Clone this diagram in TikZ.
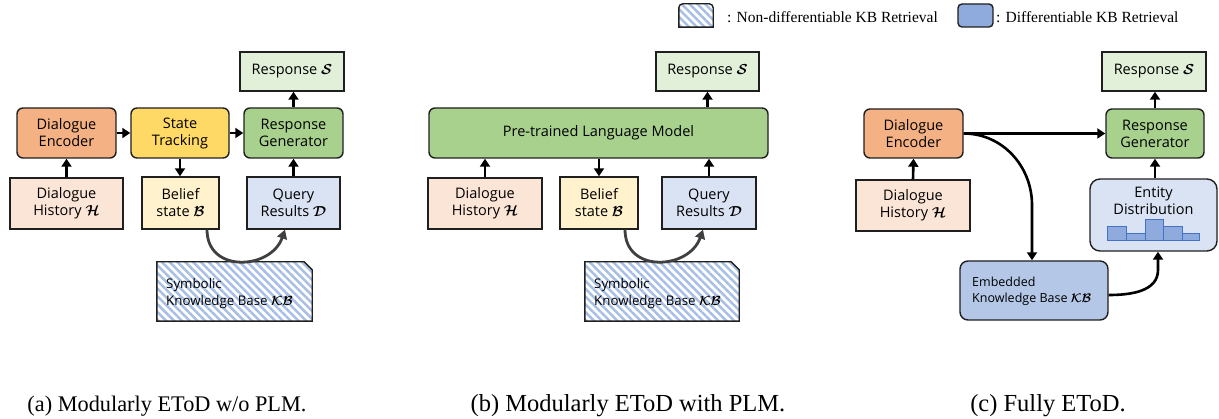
\documentclass[tikz,border=0pt]{standalone}
\usepackage{fix-cm}
\usepackage{bm}
\usepackage{fontspec}
\setmainfont{Liberation Serif}
\newfontfamily\boxfont{Open Sans}
\usetikzlibrary{arrows.meta,patterns.meta}
\definecolor{bord}{HTML}{1F1F1F}
\definecolor{deC}{HTML}{F4B183}
\definecolor{stC}{HTML}{FFD966}
\definecolor{rgC}{HTML}{A9D18E}
\definecolor{rsC}{HTML}{E2F0D9}
\definecolor{dhC}{HTML}{FBE5D6}
\definecolor{bsC}{HTML}{FFF2CC}
\definecolor{qrC}{HTML}{DAE3F3}
\definecolor{ekbC}{HTML}{B4C7E7}
\definecolor{barC}{HTML}{8FAADC}
\definecolor{barD}{HTML}{4472C4}
\definecolor{hatchC}{HTML}{A7BEE5}
\definecolor{curveC}{HTML}{404040}
\tikzset{
  bx/.style={draw=bord, line width=1.4pt, inner sep=0pt, align=center,
    font=\boxfont\fontsize{14.5}{17}\selectfont, text=black},
  rbx/.style={bx, rounded corners=6pt},
  arr/.style={line width=2.6pt, -{Triangle[length=8pt,width=10pt]}},
  curv/.style={draw=curveC, line width=2.8pt, -{Triangle[length=9pt,width=10pt]}},
  hatch/.style={pattern={Lines[angle=-45,distance=5.5pt,line width=2.5pt]}, pattern color=hatchC},
  kbtext/.style={inner sep=0pt, anchor=west, align=left, text=black},
  captxt/.style={anchor=base, inner sep=0pt},
  legtxt/.style={anchor=base west, inner sep=0pt, font=\fontsize{15.5}{18}\selectfont},
}
\begin{document}
\begin{tikzpicture}[x=1pt,y=-1pt]
\useasboundingbox (0,0) rectangle (1219,419);

% ---------- legend ----------
\node[minimum width=34pt, minimum height=23pt, inner sep=0pt] (legH) at (696,15.5) {};
\path[hatch] (legH.south west) -- (legH.north west) -- ([xshift=-5pt]legH.north east)
   -- ([yshift=-5pt]legH.north east) -- (legH.south east) -- cycle;
\draw[bord, line width=1.4pt, rounded corners=4pt] (legH.south west) -- (legH.north west) -- (legH.north east)
   [sharp corners] -- (legH.south east) -- cycle;
\node[legtxt] (legHt) at (727,23) {: Non-differentiable KB Retrieval};
\node[draw=bord, line width=1.4pt, fill=barC, rounded corners=4pt, minimum width=35pt, minimum height=23pt, inner sep=0pt] (legD) at (975.5,15.5) {};
\node[legtxt] (legDt) at (996,23) {: Differentiable KB Retrieval};

% ---------- (a) ----------
\node[bx, fill=rsC, minimum width=104pt, minimum height=39pt] (aRS) at (292,71.5) {Response $\bm{\mathcal{S}}$};
\node[rbx, fill=deC, minimum width=99pt, minimum height=50pt] (aDE) at (66.5,133) {Dialogue\\Encoder};
\node[rbx, fill=stC, minimum width=98pt, minimum height=50pt] (aST) at (180,133) {State\\Tracking};
\node[rbx, fill=rgC, minimum width=99pt, minimum height=50pt] (aRG) at (293.5,133) {Response\\Generator};
\node[bx, fill=dhC, minimum width=113pt, minimum height=51pt] (aDH) at (66.5,203.5) {Dialogue\\History $\bm{\mathcal{H}}$};
\node[bx, fill=bsC, minimum width=77pt, minimum height=52pt] (aBS) at (180.5,203) {Belief\\state $\bm{\mathcal{B}}$};
\node[bx, fill=qrC, minimum width=93pt, minimum height=52pt] (aQR) at (293.5,203) {Query\\Results $\bm{\mathcal{D}}$};
\node[minimum width=155pt, minimum height=59pt, inner sep=0pt] (aKB) at (234.5,291.5) {};
\draw[hatch, draw=bord, line width=1.4pt] (aKB.south west) -- (aKB.north west) -- ([xshift=-8pt]aKB.north east)
   -- ([yshift=-8pt]aKB.north east) -- (aKB.south east) -- cycle;
\node[kbtext, font=\boxfont\fontsize{13.3}{17}\selectfont] (aKBt) at (166,293.5) {Symbolic\\Knowledge Base $\bm{\mathcal{KB}}$};

\draw[arr] (aDH.north) -- (aDE.south);
\draw[arr] (aDE.east) -- (aST.west);
\draw[arr] (aST.east) -- (aRG.west);
\draw[arr] (aST.south) -- (aST.south |- aBS.north);
\draw[arr] (aQR.north) -- (aRG.south);
\draw[arr] (aRG.north) -- (aRG.north |- aRS.south);
\draw[curv] ([xshift=26.5pt]aBS.south) .. controls +(0,44) and +(-14,40) .. ([xshift=-8.5pt]aQR.south);

% ---------- (b) ----------
\node[bx, fill=rsC, minimum width=103pt, minimum height=39pt] (bRS) at (707.5,71.5) {Response $\bm{\mathcal{S}}$};
\node[rbx, fill=rgC, minimum width=339pt, minimum height=50pt] (bPLM) at (598.5,133) {Pre-trained Language Model};
\node[bx, fill=dhC, minimum width=114pt, minimum height=51pt] (bDH) at (485,203.5) {Dialogue\\History $\bm{\mathcal{H}}$};
\node[bx, fill=bsC, minimum width=78pt, minimum height=52pt] (bBS) at (599,203) {Belief\\state $\bm{\mathcal{B}}$};
\node[bx, fill=qrC, minimum width=94pt, minimum height=52pt] (bQR) at (709,203) {Query\\Results $\bm{\mathcal{D}}$};
\node[minimum width=154pt, minimum height=59pt, inner sep=0pt] (bKB) at (662,291.5) {};
\draw[hatch, draw=bord, line width=1.4pt] (bKB.south west) -- (bKB.north west) -- ([xshift=-8pt]bKB.north east)
   -- ([yshift=-8pt]bKB.north east) -- (bKB.south east) -- cycle;
\node[kbtext, font=\boxfont\fontsize{13.3}{17}\selectfont] (bKBt) at (594,293.5) {Symbolic\\Knowledge Base $\bm{\mathcal{KB}}$};

\draw[arr] (bDH.north) -- (bDH.north |- bPLM.south);
\draw[arr] (bBS.north |- bPLM.south) -- (bBS.north);
\draw[arr] (bQR.north) -- (bQR.north |- bPLM.south);
\draw[arr] (bRS.south |- bPLM.north) -- (bRS.south);
\draw[curv] ([xshift=26pt]bBS.south) .. controls +(0,44) and +(-14,40) .. ([xshift=-6pt]bQR.south);

% ---------- (c) ----------
\node[bx, fill=rsC, minimum width=104pt, minimum height=39pt] (cRS) at (1154,71.5) {Response $\bm{\mathcal{S}}$};
\node[rbx, fill=deC, minimum width=99pt, minimum height=49pt] (cDE) at (913.5,133.5) {Dialogue\\Encoder};
\node[rbx, fill=rgC, minimum width=98pt, minimum height=49pt] (cRG) at (1155,133.5) {Response\\Generator};
\node[bx, fill=dhC, minimum width=114pt, minimum height=51pt] (cDH) at (913,205.5) {Dialogue\\History $\bm{\mathcal{H}}$};
\node[rbx, rounded corners=10pt, fill=qrC, minimum width=127pt, minimum height=72pt] (cED) at (1153.5,215) {};
\node[inner sep=0pt, align=center, font=\boxfont\fontsize{14.5}{17}\selectfont] (cEDt) at (1153.5,201) {Entity\\Distribution};
\foreach \xa/\xb/\yt in {1107/1126/227, 1126/1145/234, 1145/1163/220, 1163/1182/227, 1182/1199/234}
  \draw[fill=barC, draw=barD, line width=1pt] (\xa,241) rectangle (\xb,\yt);
\node[rbx, rounded corners=8pt, fill=ekbC, minimum width=148pt, minimum height=59pt] (cKB) at (1034,290.5) {};
\node[kbtext, font=\boxfont\fontsize{12.5}{16}\selectfont] (cKBt) at (972,291) {Embedded\\Knowledge Base $\bm{\mathcal{KB}}$};

\draw[arr] (cDH.north) -- (cDE.south);
\draw[arr] (cDE.east) -- (cRG.west);
\draw[arr] (cED.north -| cRG.south) -- (cRG.south);
\draw[arr] (cRG.north) -- (cRG.north |- cRS.south);
\coordinate (cBend) at (1032,205);
\draw[arr] (cDE.east) to[out=0,in=90] (cBend) -- (cBend |- cKB.north);
\coordinate (cBend2) at (1158,270);
\draw[arr] ([yshift=-4.5pt]cKB.east) to[out=0,in=-90] (cBend2) -- (cBend2 |- cED.south);

% ---------- captions ----------
\node[captxt, font=\fontsize{22.3}{26}\selectfont] (capA) at (167,412) {(a) Modularly EToD w/o PLM.};
\node[captxt, font=\fontsize{24.5}{28}\selectfont] (capB) at (628,412) {(b) Modularly EToD with PLM.};
\node[captxt, font=\fontsize{24.5}{28}\selectfont] (capC) at (1048,412) {(c) Fully EToD.};
\end{tikzpicture}
\end{document}
